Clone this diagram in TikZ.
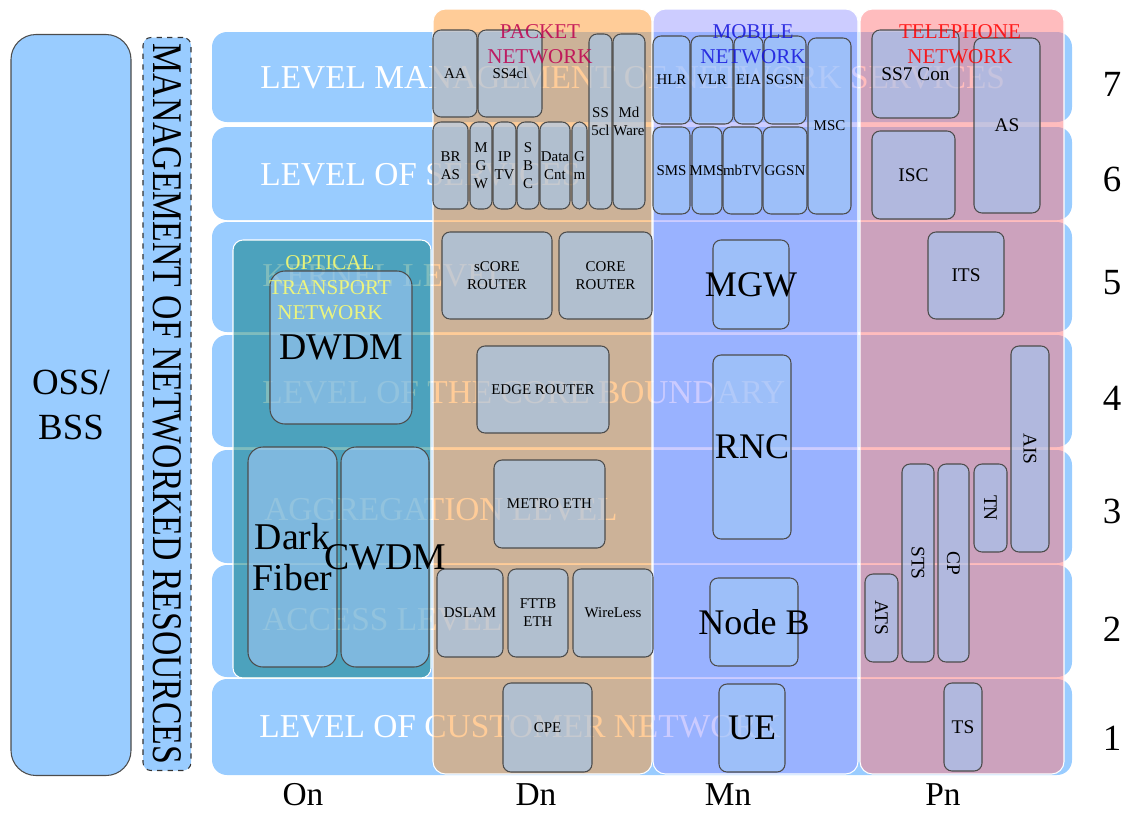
\documentclass[tikz,border=0pt]{standalone}
\usepackage{fontspec}
\setmainfont{Liberation Serif}

\definecolor{bandblue}{RGB}{153,204,255}
\definecolor{pktorange}{RGB}{255,154,50}
\definecolor{mobviolet}{RGB}{153,153,255}
\definecolor{telpink}{RGB}{255,122,125}
\definecolor{optteal}{RGB}{0,122,125}
\definecolor{unitblue}{RGB}{160,200,245}
\definecolor{pkttitle}{RGB}{190,0,80}
\definecolor{mobtitle}{RGB}{20,20,220}
\definecolor{teltitle}{RGB}{255,0,0}
\definecolor{opttitle}{RGB}{255,255,110}

\newcommand{\spill}[1]{\makebox[0pt]{#1}}

\begin{document}
\begin{tikzpicture}[x=0.02cm,y=-0.02cm,
  sz/.style 2 args={minimum width=#1*0.02cm,minimum height=#2*0.02cm},
  band/.style={rectangle,rounded corners=0.3cm,fill=bandblue,inner sep=0pt},
  lvl/.style={anchor=west,inner sep=0pt,text=white,font=\fontsize{19}{22}\selectfont},
  num/.style={inner sep=0pt,font=\fontsize{21}{24}\selectfont},
  netlbl/.style={inner sep=0pt,font=\fontsize{19}{22}\selectfont},
  column/.style={rectangle,rounded corners=0.25cm,draw=white,line width=0.6pt,fill opacity=0.5,inner sep=0pt},
  unit/.style={rectangle,rounded corners=0.16cm,draw=black!70,line width=0.6pt,fill=unitblue,fill opacity=0.6,text opacity=1,inner sep=0pt,align=center},
  small/.style={unit,font=\fontsize{8.5}{10.2}\selectfont},
  tel/.style={unit,font=\fontsize{11}{13}\selectfont},
  big/.style={unit,font=\fontsize{20.5}{23}\selectfont},
  optbig/.style={unit,rounded corners=0.3cm,font=\fontsize{21.5}{23}\selectfont},
  title/.style={inner sep=0pt,align=center,text opacity=0.85,font=\fontsize{12}{14.2}\selectfont}]

\useasboundingbox (0,0) rectangle (1125,812);

% left side
\node[band,sz={120}{741},rounded corners=0.5cm,draw=black!70,line width=0.6pt,align=center,
      font=\fontsize{21}{25.5}\selectfont] (oss) at (71,405) {OSS/\\BSS};
\node[band,sz={48}{733},rounded corners=0.16cm,draw=black!80,dashed,line width=0.6pt] (mgmt) at (167,404) {};
\node[inner sep=0pt,rotate=-90,xscale=0.8,font=\fontsize{24}{26}\selectfont] (mgmtlbl) at (mgmt.center) {MANAGEMENT OF NETWORKED RESOURCES};

% levels
\node[band,sz={860}{90}]  (b7) at (642,77) {};
\node[band,sz={860}{93}]  (b6) at (642,173.5) {};
\node[band,sz={860}{110}] (b5) at (642,277) {};
\node[band,sz={860}{112}] (b4) at (642,391) {};
\node[band,sz={860}{113}] (b3) at (642,506.5) {};
\node[band,sz={860}{112}] (b2) at (642,621) {};
\node[band,sz={860}{96}]  (b1) at (642,727) {};

\node[lvl] (l7) at (260,78)  {LEVEL MANAGEMENT OF NETWORK SERVICES};
\node[lvl] (l6) at (260,175) {LEVEL OF SERVICES};
\node[lvl] (l5) at (262,276) {KERNEL LEVEL};
\node[lvl] (l4) at (262,393) {LEVEL OF THE CORE BOUNDARY};
\node[lvl] (l3) at (264,510) {AGGREGATION LEVEL};
\node[lvl] (l2) at (262,620) {ACCESS LEVEL};
\node[lvl] (l1) at (259,727) {LEVEL OF CUSTOMER NETWORK};

\node[num] (n7) at (1112,84)  {7};
\node[num] (n6) at (1112,179) {6};
\node[num] (n5) at (1112,283) {5};
\node[num] (n4) at (1112,398) {4};
\node[num] (n3) at (1112,511) {3};
\node[num] (n2) at (1112,629) {2};
\node[num] (n1) at (1112,738) {1};

% networks
\node[column,sz={198}{438},fill=optteal,rounded corners=0.2cm] (optcol) at (332,459) {};
\node[column,sz={219}{765},fill=pktorange] (pktcol) at (542.5,391.5) {};
\node[column,sz={205}{765},fill=mobviolet] (mobcol) at (755.5,391.5) {};
\node[column,sz={204}{765},fill=telpink]   (telcol) at (962,391.5) {};

\node[netlbl] (on) at (303,795) {On};
\node[netlbl] (dn) at (536,795) {Dn};
\node[netlbl] (mn) at (728,795) {Mn};
\node[netlbl] (pn) at (943,795) {Pn};

% optical transport
\node[optbig,sz={142}{153}] (dwdm) at (341,347.5) {DWDM};
\node[optbig,sz={89}{220}]  (dark) at (292.5,557) {Dark\\Fiber};
\node[optbig,sz={88}{220}]  (cwdm) at (385,557) {\spill{CWDM}};

% packet
\node[small,sz={44}{87}]  (aa)     at (455,73.5)    {AA};
\node[small,sz={64}{87}]  (ss4cl)  at (510,73.5)    {SS4cl};
\node[small,sz={23}{175}] (ss5cl)  at (600.5,121.5) {SS\\5cl};
\node[small,sz={32}{175}] (mdware) at (629,121.5)   {Md\\\spill{Ware}};
\node[small,sz={35}{87}]  (bras)   at (450.5,165.5) {BR\\AS};
\node[small,sz={22}{87}]  (mgwp)   at (481,165.5)   {M\\G\\W};
\node[small,sz={23}{87}]  (iptv)   at (504.5,165.5) {IP\\TV};
\node[small,sz={22}{87}]  (sbc)    at (528,165.5)   {S\\B\\C};
\node[small,sz={30}{87}]  (data)   at (555,165.5)   {\spill{Data}\\Cnt};
\node[small,sz={15}{87}]  (gm)     at (579.5,165.5) {G\\m};
\node[small,sz={110}{87}] (score)  at (497,275.5)   {sCORE\\ROUTER};
\node[small,sz={93}{87}]  (core)   at (605.5,275.5) {CORE\\ROUTER};
\node[small,sz={132}{87}] (edge)   at (543,389.5)   {EDGE ROUTER};
\node[small,sz={111}{88}] (metro)  at (549.5,504)   {METRO ETH};
\node[small,sz={66}{88}]  (dslam)  at (470,613)     {DSLAM};
\node[small,sz={60}{88}]  (fttb)   at (538,613)     {FTTB\\ETH};
\node[small,sz={80}{88}]  (wless)  at (613,613)     {WireLess};
\node[small,sz={89}{89}]  (cpe)    at (547.5,727.5) {CPE};

% mobile
\node[small,sz={37}{88}]  (hlr)  at (671.5,80)    {HLR};
\node[small,sz={42}{88}]  (vlr)  at (712,80)      {VLR};
\node[small,sz={29}{88}]  (eia)  at (748.5,80)    {EIA};
\node[small,sz={42}{88}]  (sgsn) at (785,80)      {SGSN};
\node[small,sz={43}{176}] (msc)  at (829.5,126)   {MSC};
\node[small,sz={37}{87}]  (sms)  at (671.5,170.5) {SMS};
\node[small,sz={30}{87}]  (mms)  at (707,170.5)   {\spill{MMS}};
\node[small,sz={39}{87}]  (mbtv) at (742.5,170.5) {\spill{mbTV}};
\node[small,sz={44}{87}]  (ggsn) at (785,170.5)   {GGSN};
\node[big,sz={76}{89}]    (mgwm) at (751,284.5)   {\spill{MGW}};
\node[big,sz={78}{184}]   (rnc)  at (752,447)     {RNC};
\node[big,sz={88}{88}]    (nodeb) at (754,622)    {\spill{Node B}};
\node[big,sz={66}{88}]    (ue)   at (752,728)     {UE};

% telephone
\node[tel,sz={87}{88}]  (ss7) at (915.5,74)  {SS7 Con};
\node[tel,sz={66}{175}] (as)  at (1007,125.5) {AS};
\node[tel,sz={83}{88}]  (isc) at (913.5,175) {ISC};
\node[tel,sz={76}{87}]  (its) at (966,275.5) {ITS};
\node[tel,sz={206}{38},rotate=-90] (ais) at (1030,449)  {AIS};
\node[tel,sz={88}{33},rotate=-90]  (tn)  at (990.5,508) {TN};
\node[tel,sz={198}{31},rotate=-90] (cp)  at (953.5,563) {CP};
\node[tel,sz={198}{32},rotate=-90] (sts) at (918,563)   {STS};
\node[tel,sz={88}{33},rotate=-90]  (ats) at (881.5,618) {ATS};
\node[tel,sz={38}{88}]  (ts)  at (963,727)  {TS};

% network names
\node[title,text=pkttitle] (pktname) at (540,44)  {PACKET\\NETWORK};
\node[title,text=mobtitle] (mobname) at (753,44)  {MOBILE\\NETWORK};
\node[title,text=teltitle] (telname) at (960,44)  {TELEPHONE\\NETWORK};
\node[title,text=opttitle] (optname) at (330,288) {OPTICAL\\TRANSPORT\\NETWORK};

\end{tikzpicture}
\end{document}
